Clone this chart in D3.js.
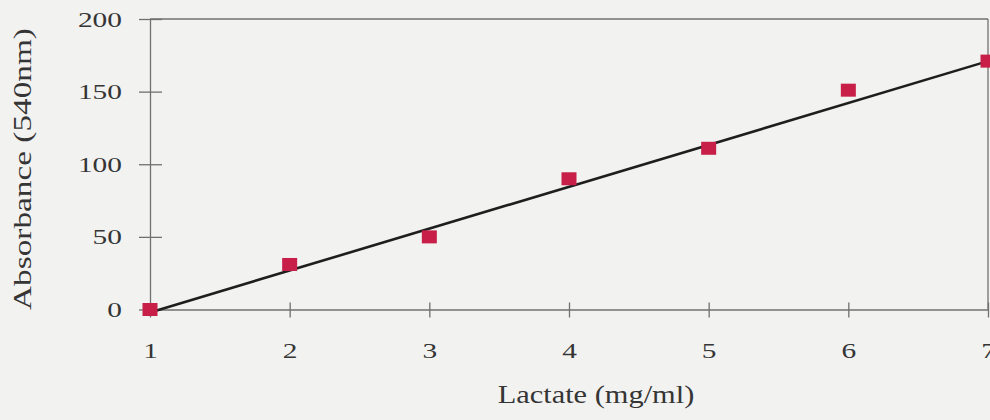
<!DOCTYPE html>
<html>
<head>
<meta charset="utf-8">
<script src="https://cdn.jsdelivr.net/npm/d3@7"></script>
<style>
  body { margin: 0; background: #f2f2f1; }
  svg { display: block; }
</style>
</head>
<body>
<svg width="990" height="420"></svg>
<script>
// data
const lactate = [1, 2, 3, 4, 5, 6, 7];
const absorbance = [0, 31, 50, 90, 111, 151, 171];
const fitLine = [[1, -2], [7, 171]];   // drawn trend line, end points
const xTicks = [1, 2, 3, 4, 5, 6, 7];
const yTicks = [0, 50, 100, 150, 200];

const svg = d3.select("svg");
const axisColor = "#707070";
const textColor = "#353535";

const x = d3.scaleLinear().domain([1, 7]).range([150, 988]);
const y = d3.scaleLinear().domain([0, 200]).range([309.5, 19]);

// frame: top and right edges
svg.append("line")
    .attr("x1", x(1)).attr("x2", x(7))
    .attr("y1", y(200)).attr("y2", y(200))
    .style("stroke", axisColor).style("stroke-width", 1.3);
svg.append("line")
    .attr("x1", x(7)).attr("x2", x(7))
    .attr("y1", y(200)).attr("y2", y(0))
    .style("stroke", axisColor).style("stroke-width", 1.3);

// y axis, ticks cross the line
const yAxis = svg.append("g")
    .attr("transform", `translate(${x(1)},0)`)
    .call(d3.axisLeft(y).tickValues(yTicks).tickFormat(d3.format("d")).tickSize(11).tickSizeOuter(0));
yAxis.select(".domain").style("stroke", axisColor).style("stroke-width", 1.3);
yAxis.selectAll(".tick line")
    .attr("x1", 12).attr("x2", -11)
    .style("stroke", axisColor).style("stroke-width", 1.3);
yAxis.selectAll(".tick text")
    .attr("x", 0).attr("dy", null).attr("y", 7)
    .attr("transform", "translate(-28,0) scale(1.4,1)")
    .style("font-family", "'Liberation Serif', 'Times New Roman', serif")
    .style("font-size", "21px")
    .style("fill", textColor);

// x axis
const xAxis = svg.append("g")
    .attr("transform", `translate(0,${y(0)})`)
    .call(d3.axisBottom(x).tickValues(xTicks).tickFormat(d3.format("d")).tickSize(8).tickSizeOuter(0));
xAxis.select(".domain").style("stroke", axisColor).style("stroke-width", 1.3);
xAxis.selectAll(".tick line")
    .attr("y1", -7).attr("y2", 8)
    .style("stroke", axisColor).style("stroke-width", 1.3);
xAxis.selectAll(".tick text")
    .attr("y", 0).attr("dy", null)
    .attr("transform", "translate(0,48.5) scale(1.4,1)")
    .style("font-family", "'Liberation Serif', 'Times New Roman', serif")
    .style("font-size", "21px")
    .style("fill", textColor);

// trend line
svg.append("path")
    .datum(fitLine)
    .attr("d", d3.line().x(d => x(d[0])).y(d => y(d[1])))
    .style("fill", "none")
    .style("stroke", "#1e1e1e")
    .style("stroke-width", 2.6);

// data squares
svg.append("g")
    .selectAll("rect")
    .data(lactate.map((v, i) => [v, absorbance[i]]))
    .join("rect")
    .attr("x", d => x(d[0]) - 7.5)
    .attr("y", d => y(d[1]) - 6.5)
    .attr("width", 15)
    .attr("height", 13)
    .style("fill", "#c71f47");

// axis titles
svg.append("text")
    .attr("transform", "translate(596,403) scale(1.17,1)")
    .attr("text-anchor", "middle")
    .style("font-family", "'Liberation Serif', 'Times New Roman', serif")
    .style("font-size", "26px")
    .style("fill", textColor)
    .text("Lactate (mg/ml)");

svg.append("text")
    .attr("transform", "translate(31,169) rotate(-90) scale(1.28,1)")
    .attr("text-anchor", "middle")
    .style("font-family", "'Liberation Serif', 'Times New Roman', serif")
    .style("font-size", "26px")
    .style("fill", textColor)
    .text("Absorbance (540nm)");
</script>
</body>
</html>
